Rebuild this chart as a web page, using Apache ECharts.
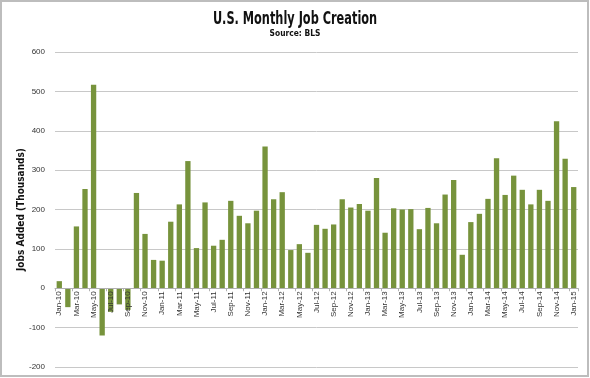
<!DOCTYPE html>
<html>
<head>
<meta charset="utf-8">
<script src="https://cdn.jsdelivr.net/npm/echarts@6/dist/echarts.min.js"></script>
<style>
html,body{margin:0;padding:0;background:#fff;}
#c{width:590px;height:378px;}
</style>
</head>
<body>
<div id="c"></div>
<script>
var categories = [
  'Jan-10','Feb-10','Mar-10','Apr-10','May-10','Jun-10','Jul-10','Aug-10','Sep-10','Oct-10','Nov-10','Dec-10',
  'Jan-11','Feb-11','Mar-11','Apr-11','May-11','Jun-11','Jul-11','Aug-11','Sep-11','Oct-11','Nov-11','Dec-11',
  'Jan-12','Feb-12','Mar-12','Apr-12','May-12','Jun-12','Jul-12','Aug-12','Sep-12','Oct-12','Nov-12','Dec-12',
  'Jan-13','Feb-13','Mar-13','Apr-13','May-13','Jun-13','Jul-13','Aug-13','Sep-13','Oct-13','Nov-13','Dec-13',
  'Jan-14','Feb-14','Mar-14','Apr-14','May-14','Jun-14','Jul-14','Aug-14','Sep-14','Oct-14','Nov-14','Dec-14',
  'Jan-15'
];
var jobsAdded = [
  18, -48, 157, 252, 517, -120, -60, -41, -55, 242, 138, 72,
  70, 169, 213, 323, 102, 218, 108, 123, 222, 184, 165, 197,
  360, 226, 244, 97, 112, 90, 161, 151, 162, 226, 205, 214,
  197, 280, 141, 203, 200, 201, 150, 204, 165, 238, 275, 85,
  168, 189, 227, 330, 237, 286, 250, 213, 250, 222, 424, 329,
  257
];
var titleText = 'U.S. Monthly Job Creation';
var subtitleText = 'Source: BLS';
var yAxisName = 'Jobs Added (Thousands)';
var yMin = -200, yMax = 600;

var gridTop = 52, gridBottom = 11, H = 378;
var plotH = H - gridTop - gridBottom;
var zeroOffset = -plotH * (0 - yMin) / (yMax - yMin);

var condensed = '"DejaVu Sans Condensed", "Liberation Sans Narrow", sans-serif';

var chart = echarts.init(document.getElementById('c'), null, {renderer: 'canvas'});
chart.setOption({
  animation: false,
  backgroundColor: '#ffffff',
  graphic: [{
    type: 'rect',
    shape: {x: 1, y: 1, width: 587, height: 375},
    style: {fill: 'none', stroke: '#bdbdbd', lineWidth: 2},
    silent: true
  }, {
    type: 'text',
    x: 295, y: 19,
    scaleX: 0.70,
    style: {
      text: titleText,
      fontFamily: condensed,
      fontWeight: 'bold',
      fontSize: 18,
      fill: '#111',
      align: 'center',
      verticalAlign: 'middle'
    },
    silent: true
  }, {
    type: 'text',
    x: 295, y: 34,
    scaleX: 0.88,
    style: {
      text: subtitleText,
      fontFamily: condensed,
      fontWeight: 'bold',
      fontSize: 9.5,
      fill: '#111',
      align: 'center',
      verticalAlign: 'middle'
    },
    silent: true
  }],
  grid: {left: 55, right: 12, top: gridTop, bottom: gridBottom, containLabel: false},
  xAxis: {
    type: 'category',
    data: categories,
    offset: zeroOffset,
    z: 10,
    axisLine: {onZero: false, lineStyle: {color: '#b0b0b0', width: 1}},
    axisTick: {show: true, interval: 1, length: 3, lineStyle: {color: '#b0b0b0'}},
    axisLabel: {
      interval: 1,
      rotate: 90,
      fontSize: 8,
      margin: 3,
      color: '#333',
      fontFamily: '"Liberation Sans", Arial, sans-serif'
    },
    splitLine: {show: false}
  },
  yAxis: {
    type: 'value',
    min: yMin,
    max: yMax,
    interval: 100,
    name: yAxisName,
    nameLocation: 'middle',
    nameGap: 29,
    nameMoveOverlap: false,
    nameTextStyle: {
      fontFamily: condensed,
      fontWeight: 'bold',
      fontSize: 10,
      color: '#111'
    },
    axisLine: {show: false},
    axisTick: {show: false},
    axisLabel: {
      fontSize: 8,
      margin: 10,
      color: '#333',
      fontFamily: '"Liberation Sans", Arial, sans-serif'
    },
    splitLine: {lineStyle: {color: '#c8c8c8', width: 1}}
  },
  series: [{
    type: 'bar',
    data: jobsAdded,
    barCategoryGap: '38%',
    itemStyle: {color: '#77933c'}
  }]
});
</script>
</body>
</html>
